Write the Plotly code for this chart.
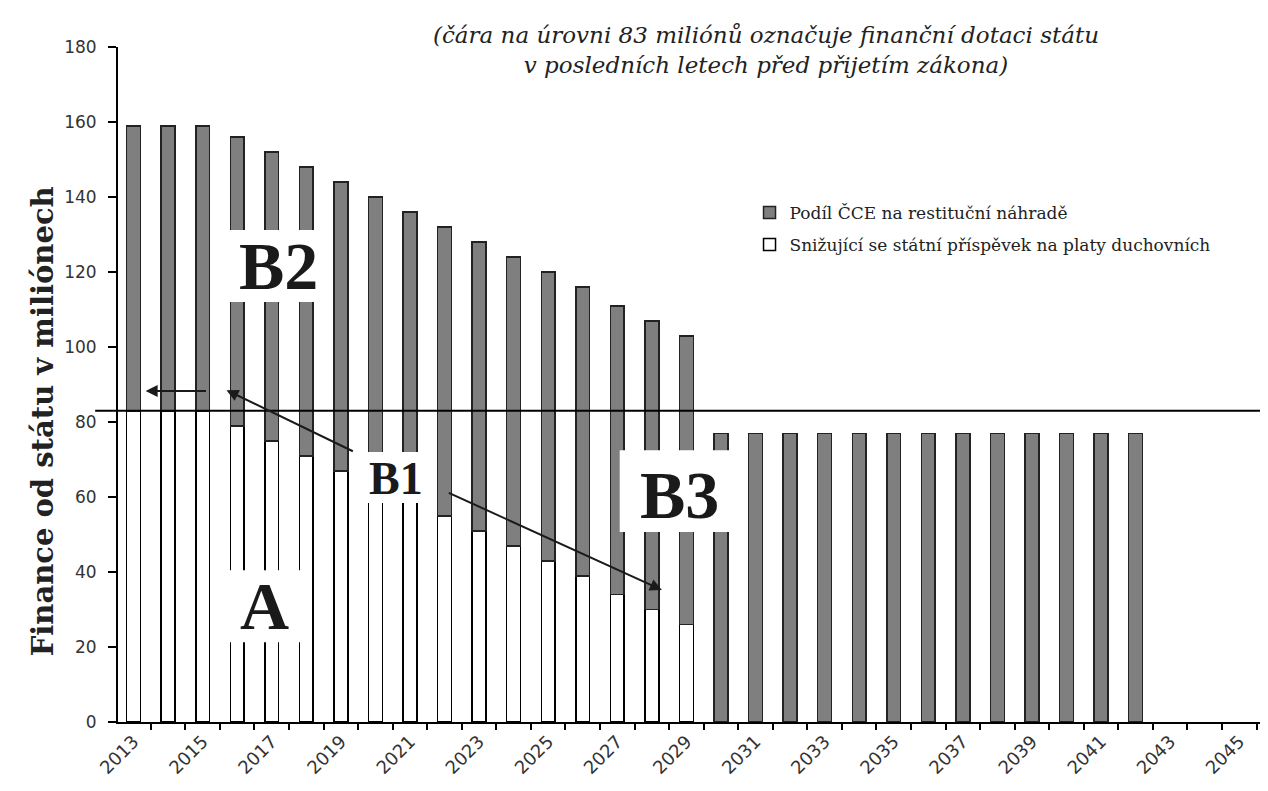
import plotly.graph_objects as go

years = list(range(2013, 2043))
# white bottom segment: declining state contribution to clergy salaries
state_contrib = [83, 83, 83, 79, 75, 71, 67, 63, 59, 55, 51, 47, 43, 39, 34, 30, 26] + [None] * 13
# gray top segment: ČCE share of restitution compensation
cce_share = [76, 76, 76, 77, 77, 77, 77, 77, 77, 77, 77, 77, 77, 77, 77, 77, 77] + [77] * 13
tick_years = list(range(2013, 2046, 2))
level_line = 83

name_gray = "Podíl ČCE na restituční náhradě"
name_white = "Snižující se státní příspěvek na platy duchovních"

fig = go.Figure()
fig.add_trace(go.Bar(
    x=years, y=state_contrib, name=name_white, width=0.4,
    marker=dict(color="white", line=dict(color="black", width=1.5)),
    legendrank=2, legendgroup="w",
))
fig.add_trace(go.Bar(
    x=years, y=cce_share, name=name_gray, width=0.4,
    marker=dict(color="#7f7f7f", line=dict(color="#222222", width=1.5)),
    legendrank=1, legendgroup="g",
))

serif = "DejaVu Serif"
fig.update_layout(
    barmode="stack",
    width=1260, height=783,
    margin=dict(l=110, r=8, t=39, b=69, autoexpand=False),
    paper_bgcolor="white", plot_bgcolor="white",
    showlegend=True,
    legend=dict(x=0.553, y=0.781, xanchor="left", yanchor="top", traceorder="grouped",
                font=dict(family=serif, size=17, color="#222"),
                bgcolor="rgba(0,0,0,0)", tracegroupgap=7),
    xaxis=dict(
        range=[2012.55, 2045.6], tickmode="array", tickvals=tick_years,
        ticktext=[str(t) for t in tick_years], tickangle=-45, ticks="",
        tickfont=dict(family="DejaVu Sans", size=18, color="#333"),
        showline=True, linecolor="black", linewidth=2, showgrid=False, zeroline=False,
        automargin=False,
        minor=dict(tickmode="array", tickvals=[y + 0.5 for y in range(2012, 2046)],
                   ticks="outside", ticklen=6, tickcolor="black", tickwidth=2),
    ),
    yaxis=dict(
        range=[0, 180], dtick=20, ticks="outside", ticklen=8, tickwidth=2, tickcolor="black",
        ticklabelstandoff=8, automargin=False,
        tickfont=dict(family="DejaVu Sans", size=17, color="#333"),
        showline=True, linecolor="black", linewidth=2, showgrid=False, zeroline=False,
    ),
)

# y-axis title
fig.add_annotation(xref="paper", yref="paper", x=-0.066, y=0.445, xanchor="center", yanchor="middle",
                   text="Finance od státu v miliónech", textangle=-90, showarrow=False,
                   font=dict(family=serif, size=29, color="#222", weight="bold"))

# reference level line
fig.add_shape(type="line", xref="paper", yref="y", x0=-0.02, x1=1.01, y0=level_line, y1=level_line,
              line=dict(color="black", width=2), layer="above")

# white label boxes
boxes = [
    (2015.75, 2018.52, 112, 131.2),
    (2015.72, 2018.03, 21.3, 40.5),
    (2019.53, 2021.7, 58.4, 72),
    (2027.07, 2030.36, 50.7, 72.5),
]
for x0, x1, y0, y1 in boxes:
    fig.add_shape(type="rect", x0=x0, x1=x1, y0=y0, y1=y1, fillcolor="white",
                  line=dict(width=0), layer="above")

big = dict(family="Liberation Serif", size=68, color="#1a1a1a", weight="bold")
fig.add_annotation(x=2017.2, y=121.5, text="B2", showarrow=False, font=big)
fig.add_annotation(x=2016.8, y=31, text="A", showarrow=False, font=big)
fig.add_annotation(x=2028.8, y=60.5, text="B3", showarrow=False, font=big)
fig.add_annotation(x=2020.6, y=65, text="B1", showarrow=False,
                   font=dict(family="Liberation Serif", size=46, color="#1a1a1a", weight="bold"))

# arrows
arrows = [
    ((2015.14, 88.3), (2013.35, 88.3)),
    ((2019.39, 72.0), (2015.69, 88.5)),
    ((2022.08, 61.3), (2028.29, 35.2)),
]
for (tx, ty), (hx, hy) in arrows:
    fig.add_annotation(x=hx, y=hy, ax=tx, ay=ty, axref="x", ayref="y", xref="x", yref="y",
                       text="", showarrow=True, arrowhead=2, arrowsize=1.2, arrowwidth=2,
                       arrowcolor="#1a1a1a")

# header note
fig.add_annotation(xref="paper", yref="paper", x=0.567, y=1.04, xanchor="center", yanchor="top",
                   text="<i>(čára na úrovni 83 miliónů označuje finanční dotaci státu<br>"
                        "v posledních letech před přijetím zákona)</i>",
                   showarrow=False, align="center",
                   font=dict(family=serif, size=23, color="#222"))

fig.write_html("out.html")
